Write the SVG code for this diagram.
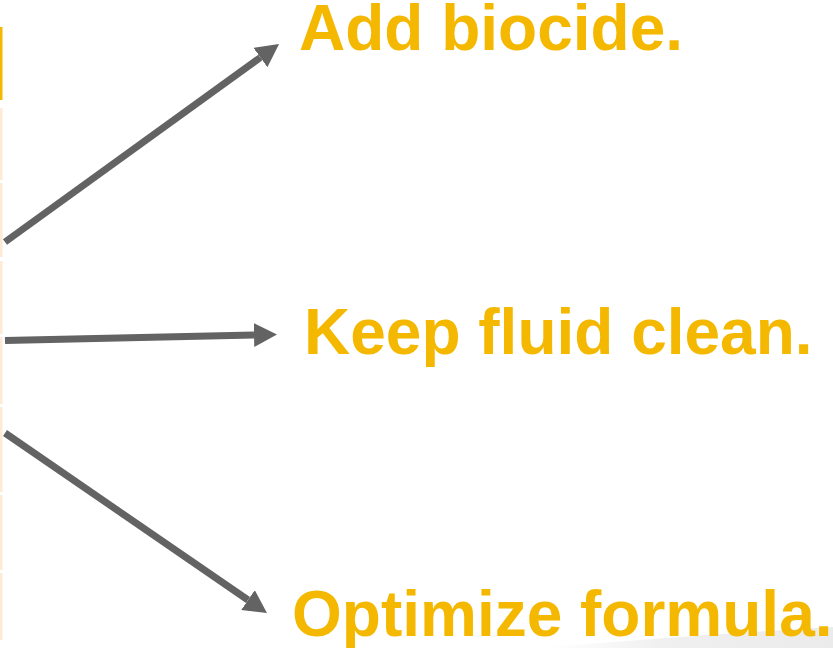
<svg xmlns="http://www.w3.org/2000/svg" width="833" height="648" viewBox="0 0 833 648">
  <defs>
    <style>
      .lbl { font-family: "Liberation Sans", Arial, sans-serif; font-weight: bold; font-size: 64px; fill: #F5B800; }
      .conn { stroke: #636363; stroke-width: 7; fill: none; marker-end: url(#head); }
      .bar { fill: #FDEBD5; }
    </style>
    <marker id="head" markerUnits="userSpaceOnUse" markerWidth="23" markerHeight="24" viewBox="0 0 23 24" refX="0" refY="12" orient="auto">
      <path d="M0,0 L23,12 L0,24 z" fill="#636363"/>
    </marker>
    <linearGradient id="floor" x1="0" y1="0" x2="1" y2="0">
      <stop offset="0" stop-color="#F4F4F4" stop-opacity="0"/>
      <stop offset="0.4" stop-color="#F0F0F0"/>
      <stop offset="1" stop-color="#EBEBEB"/>
    </linearGradient>
  </defs>
  <rect width="833" height="648" fill="#FFFFFF"/>
  <path d="M540,648 Q680,636 833,627 L833,648 Z" fill="url(#floor)"/>
  <g id="edge-bars">
    <rect x="0" y="27" width="2.5" height="73" fill="#F5B800"/>
    <rect class="bar" x="0" y="108" width="2.5" height="72"/>
    <rect class="bar" x="0" y="183" width="2.5" height="74"/>
    <rect class="bar" x="0" y="261" width="2.5" height="73"/>
    <rect class="bar" x="0" y="337" width="2.5" height="67"/>
    <rect class="bar" x="0" y="407" width="2.5" height="85"/>
    <rect class="bar" x="0" y="495" width="2.5" height="75"/>
    <rect class="bar" x="0" y="573" width="2.5" height="67"/>
  </g>
  <g id="connectors">
    <line class="conn" x1="5" y1="242" x2="260.4" y2="57.5"/>
    <line class="conn" x1="5" y1="340.5" x2="254" y2="335"/>
    <line class="conn" x1="5" y1="433" x2="248" y2="600"/>
  </g>
  <g id="add-biocide">
    <text class="lbl" x="299" y="50">Add biocide.</text>
  </g>
  <g id="keep-fluid-clean">
    <text class="lbl" x="304" y="354">Keep fluid clean.</text>
  </g>
  <g id="optimize-formula">
    <text class="lbl" x="292" y="636">Optimize formula.</text>
  </g>
</svg>
